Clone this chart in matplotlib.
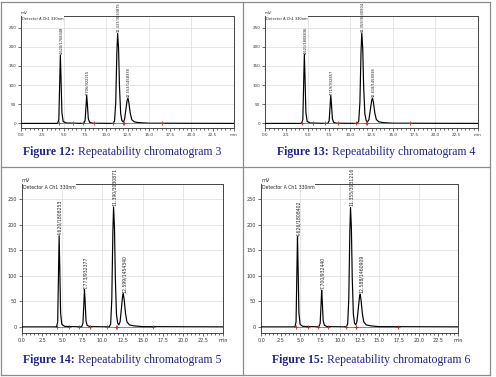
import matplotlib
matplotlib.use("Agg")
import matplotlib.pyplot as plt
from matplotlib.lines import Line2D

W, H = 496, 377

# figure numbers / run numbers
fig_numbers = [12, 13, 14, 15]
run_numbers = [3, 4, 5, 6]

# peak apex times, heights and labels (time/area)
peak_times = [
    [4.620, 7.706, 11.337, 12.554],
    [4.621, 7.719, 11.359, 12.618],
    [4.620, 7.773, 11.390, 12.599],
    [4.626, 7.700, 11.355, 12.588],
]
peak_heights = [
    [178, 73, 235, 66],
    [180, 73, 236, 66],
    [178, 73, 235, 65],
    [177, 72, 234, 64],
]
peak_labels = [
    ["4.620/1768348", "7.706/922215", "11.337/3030875", "12.554/1458378"],
    ["4.621/1808836", "7.719/932857", "11.359/3030904", "12.618/1458938"],
    ["4.620/1808253", "7.773/932377", "11.390/3030871", "12.599/1454340"],
    ["4.626/1808402", "7.700/932440", "11.355/3031216", "12.588/1460909"],
]

# detector traces (min, mV)
trace_t = [
    [0, 4.30, 4.44, 4.54, 4.62, 4.70, 4.80, 4.95, 5.3, 7.35, 7.52, 7.64, 7.71,
     7.79, 7.90, 8.05, 8.4, 10.8, 10.98, 11.12, 11.25, 11.34, 11.45, 11.56,
     11.70, 11.85, 12.0, 12.15, 12.32, 12.46, 12.55, 12.66, 12.82, 13.0, 13.3,
     13.8, 15.0, 25],
    [0, 4.30, 4.44, 4.54, 4.62, 4.70, 4.80, 4.95, 5.3, 7.36, 7.53, 7.65, 7.72,
     7.80, 7.91, 8.05, 8.4, 10.82, 11.0, 11.14, 11.27, 11.36, 11.47, 11.58,
     11.72, 11.88, 12.03, 12.2, 12.38, 12.53, 12.62, 12.73, 12.89, 13.07,
     13.37, 13.9, 15.0, 25],
    [0, 4.30, 4.44, 4.54, 4.62, 4.70, 4.80, 4.95, 5.3, 7.41, 7.58, 7.70, 7.77,
     7.85, 7.96, 8.1, 8.45, 10.85, 11.03, 11.17, 11.30, 11.39, 11.50, 11.61,
     11.75, 11.9, 12.05, 12.2, 12.37, 12.51, 12.60, 12.71, 12.87, 13.05,
     13.35, 13.9, 15.0, 25],
    [0, 4.31, 4.45, 4.55, 4.63, 4.71, 4.81, 4.96, 5.3, 7.34, 7.51, 7.63, 7.70,
     7.78, 7.89, 8.05, 8.4, 10.82, 11.0, 11.14, 11.27, 11.36, 11.47, 11.58,
     11.72, 11.87, 12.02, 12.17, 12.35, 12.5, 12.59, 12.70, 12.86, 13.04,
     13.34, 13.9, 15.0, 25],
]
trace_y = [
    [0, 0, 10, 105, 178, 115, 28, 5, 1, 0, 7, 48, 73, 50, 12, 3, 0.5, 0, 6, 55,
     185, 235, 195, 95, 25, 7, 4, 10, 38, 61, 66, 54, 27, 10, 4, 2, 0.5, 0],
    [0, 0, 10, 107, 180, 116, 28, 5, 1, 0, 7, 48, 73, 50, 12, 3, 0.5, 0, 6, 55,
     186, 236, 196, 95, 25, 7, 4, 10, 38, 61, 66, 54, 27, 10, 4, 2, 0.5, 0],
    [0, 0, 10, 105, 178, 115, 28, 5, 1, 0, 7, 48, 73, 50, 12, 3, 0.5, 0, 6, 55,
     185, 235, 195, 95, 25, 7, 4, 10, 37, 60, 65, 53, 27, 10, 4, 2, 0.5, 0],
    [0, 0, 10, 104, 177, 114, 28, 5, 1, 0, 7, 47, 72, 49, 12, 3, 0.5, 0, 6, 55,
     184, 234, 194, 95, 25, 7, 4, 10, 36, 59, 64, 52, 26, 10, 4, 2, 0.5, 0],
]

# integration baseline markers (min)
marker_times = [
    [4.45, 6.05, 7.3, 8.6, 10.8, 11.98, 12.06, 16.6],
    [4.3, 5.65, 7.1, 8.6, 10.7, 11.9, 12.0, 17.05],
    [4.4, 5.9, 7.1, 8.5, 10.6, 11.75, 11.85, 16.3],
    [4.5, 6.0, 7.2, 8.5, 10.8, 12.0, 12.1, 17.35],
]

x_ticks = [0.0, 2.5, 5.0, 7.5, 10.0, 12.5, 15.0, 17.5, 20.0, 22.5, 25.0]
y_ticks = [0, 50, 100, 150, 200, 250]

# axes boxes in pixels: left, top, right, bottom
boxes = [(21, 16, 234, 128), (265, 16, 478, 128),
         (22, 184, 223, 333), (261, 184, 458, 333)]
captions_xy = [(122, 152), (376, 152), (122, 360), (371, 360)]
tick_fs = [3.0, 3.0, 3.5, 3.5]
label_fs = [2.6, 2.6, 3.3, 3.3]

BLUE = "#20209f"
GRAY = "#8c8c8c"


def px_axes(fig, box):
    l, t, r, b = box
    return fig.add_axes([l / W, 1 - b / H, (r - l) / W, (b - t) / H])


def draw_chromatogram(ax, i):
    fs = tick_fs[i]
    ax.set_xlim(0, 25)
    ax.set_ylim(-12, 280)
    for x in [5, 10, 15, 20]:
        ax.axvline(x, color="#dcdcdc", lw=0.5, zorder=0)
    for y in y_ticks[1:]:
        ax.axhline(y, color="#dcdcdc", lw=0.5, zorder=0)

    ax.plot(trace_t[i], trace_y[i], color="black", lw=0.85, zorder=3)

    m = marker_times[i]
    for a, b in [(m[0], m[1]), (m[2], m[3]), (m[4], m[5]), (m[6], m[7])]:
        ax.plot([a, b], [0, 0], color="#e02020", lw=0.5, zorder=4)
    ax.plot(m, [0] * len(m), ls="none", marker="+", ms=3, mew=0.6,
            color="#e02020", zorder=5)

    for t, h, lab in zip(peak_times[i], peak_heights[i], peak_labels[i]):
        ax.text(t + 0.12, h + 2, lab, rotation=90, ha="center", va="bottom",
                fontsize=label_fs[i], color="#222222", clip_on=False,
                zorder=6)

    ax.set_xticks(x_ticks)
    ax.set_xticklabels(["%.1f" % v for v in x_ticks[:-1]] + ["min"])
    ax.set_xticks([k * 0.5 for k in range(51)], minor=True)
    ax.set_yticks(y_ticks)
    ax.tick_params(labelsize=fs, length=2, width=0.5, pad=1.5,
                   colors="#333333")
    ax.tick_params(which="minor", length=1.2, width=0.4)
    for s in ax.spines.values():
        s.set_linewidth(0.7)
        s.set_color("#444444")

    ax.text(0.0, 1.01, "mV", transform=ax.transAxes, fontsize=fs,
            ha="left", va="bottom", color="#333333")
    ax.text(0.005, 0.995, "Detector A Ch1 330nm", transform=ax.transAxes,
            fontsize=label_fs[i], ha="left", va="top", color="#222222",
            zorder=7,
            bbox=dict(boxstyle="square,pad=0.1", fc="white", ec="none"))


def caption(fig, xy, num, run):
    r = fig.canvas.get_renderer()
    kw = dict(fontsize=8.5, family="Liberation Serif", color=BLUE,
              va="center", ha="left")
    b = fig.text(0, 0, "Figure %d:" % num, fontweight="bold", **kw)
    n = fig.text(0, 0, " Repeatability chromatogram %d" % run, **kw)
    wb = b.get_window_extent(r).width
    wn = n.get_window_extent(r).width
    x0 = xy[0] - (wb + wn) / 2
    y = 1 - xy[1] / H
    b.set_position((x0 / W, y))
    n.set_position(((x0 + wb) / W, y))


def table_lines(fig):
    segs = [((1, 2), (490, 2)), ((1, 375), (490, 375)),
            ((1, 2), (1, 375)), ((490, 2), (490, 375)),
            ((243, 2), (243, 375)), ((1, 167), (490, 167))]
    for (x1, y1), (x2, y2) in segs:
        fig.add_artist(Line2D([x1 / W, x2 / W], [1 - y1 / H, 1 - y2 / H],
                              color=GRAY, lw=0.9))


def main():
    fig = plt.figure(figsize=(W / 100, H / 100), dpi=100)
    table_lines(fig)
    for i in range(4):
        ax = px_axes(fig, boxes[i])
        draw_chromatogram(ax, i)
        caption(fig, captions_xy[i], fig_numbers[i], run_numbers[i])
    fig.savefig("out.png", dpi=100)


if __name__ == "__main__":
    main()
